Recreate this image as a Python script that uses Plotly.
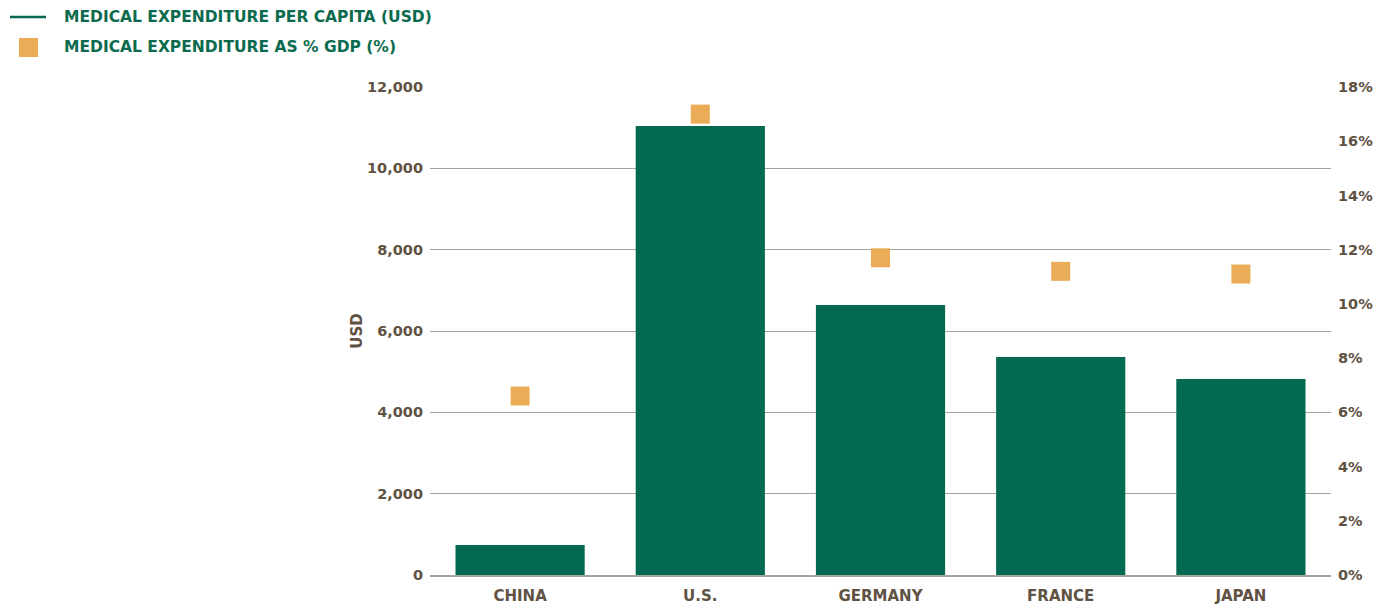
import plotly.graph_objects as go

countries = ["CHINA", "U.S.", "GERMANY", "FRANCE", "JAPAN"]
spend_per_capita_usd = [740, 11040, 6640, 5360, 4820]
spend_pct_gdp = [6.6, 17.0, 11.7, 11.2, 11.1]

usd_ticks = [0, 2000, 4000, 6000, 8000, 10000, 12000]
pct_ticks = [0, 2, 4, 6, 8, 10, 12, 14, 16, 18]

GREEN = "#036950"
ORANGE = "#EBAC57"
BROWN = "#5F5243"
GRID = "#A3A699"
LEGEND_TXT = "#0C6B4E"

tick_font = dict(family="DejaVu Sans", size=14.5, color=BROWN, weight="bold")
cat_font = dict(family="DejaVu Sans", size=15, color=BROWN, weight="bold")

fig = go.Figure()

fig.add_trace(go.Bar(
    x=countries,
    y=spend_per_capita_usd,
    marker=dict(color=GREEN, line=dict(width=0)),
    name="MEDICAL EXPENDITURE PER CAPITA (USD)",
    showlegend=False,
    yaxis="y",
))

fig.add_trace(go.Scatter(
    x=countries,
    y=spend_pct_gdp,
    mode="markers",
    marker=dict(symbol="square", size=19, color=ORANGE, line=dict(width=0)),
    name="MEDICAL EXPENDITURE AS % GDP (%)",
    showlegend=False,
    yaxis="y2",
))

fig.update_layout(
    width=1392,
    height=605,
    margin=dict(l=430, r=61, t=87, b=30),
    paper_bgcolor="white",
    plot_bgcolor="white",
    bargap=0.283,
    xaxis=dict(
        tickfont=cat_font,
        showgrid=False,
        showline=True,
        linecolor=GRID,
        linewidth=1.5,
        ticks="",
        ticklabelstandoff=6,
        automargin=False,
    ),
    yaxis=dict(
        range=[0, 12000],
        tickvals=usd_ticks,
        tickformat=",d",
        tickfont=tick_font,
        showgrid=True,
        gridcolor=GRID,
        gridwidth=1,
        zeroline=False,
        ticks="",
        ticklabelstandoff=6,
        automargin=False,
        title=dict(text="USD", font=dict(family="DejaVu Sans", size=15, color=BROWN, weight="bold"), standoff=0),
    ),
    yaxis2=dict(
        range=[0, 18],
        tickvals=pct_ticks,
        ticktext=[f"{v}%" for v in pct_ticks],
        tickfont=tick_font,
        overlaying="y",
        side="right",
        showgrid=False,
        zeroline=False,
        ticks="",
        ticklabelstandoff=6,
        automargin=False,
    ),
)

# Legend drawn at the top-left corner
fig.add_shape(type="line", xref="paper", yref="paper",
              x0=-420 / 901, x1=-384 / 901,
              y0=(575 - 17) / 488, y1=(575 - 17) / 488,
              line=dict(color=GREEN, width=2.5))
fig.add_shape(type="rect", xref="paper", yref="paper",
              x0=-411 / 901, x1=-392 / 901,
              y0=(575 - 57) / 488, y1=(575 - 38) / 488,
              fillcolor=ORANGE, line=dict(width=0))

legend_font = dict(family="DejaVu Sans", size=15.5, color=LEGEND_TXT, weight="bold")
for label, ypix in [("MEDICAL EXPENDITURE PER CAPITA (USD)", 17),
                    ("MEDICAL EXPENDITURE AS % GDP (%)", 47)]:
    fig.add_annotation(text=label, xref="paper", yref="paper",
                       x=-368 / 901, y=(575 - ypix) / 488,
                       xanchor="left", yanchor="middle",
                       showarrow=False, font=legend_font)

fig.write_html("out.html")
